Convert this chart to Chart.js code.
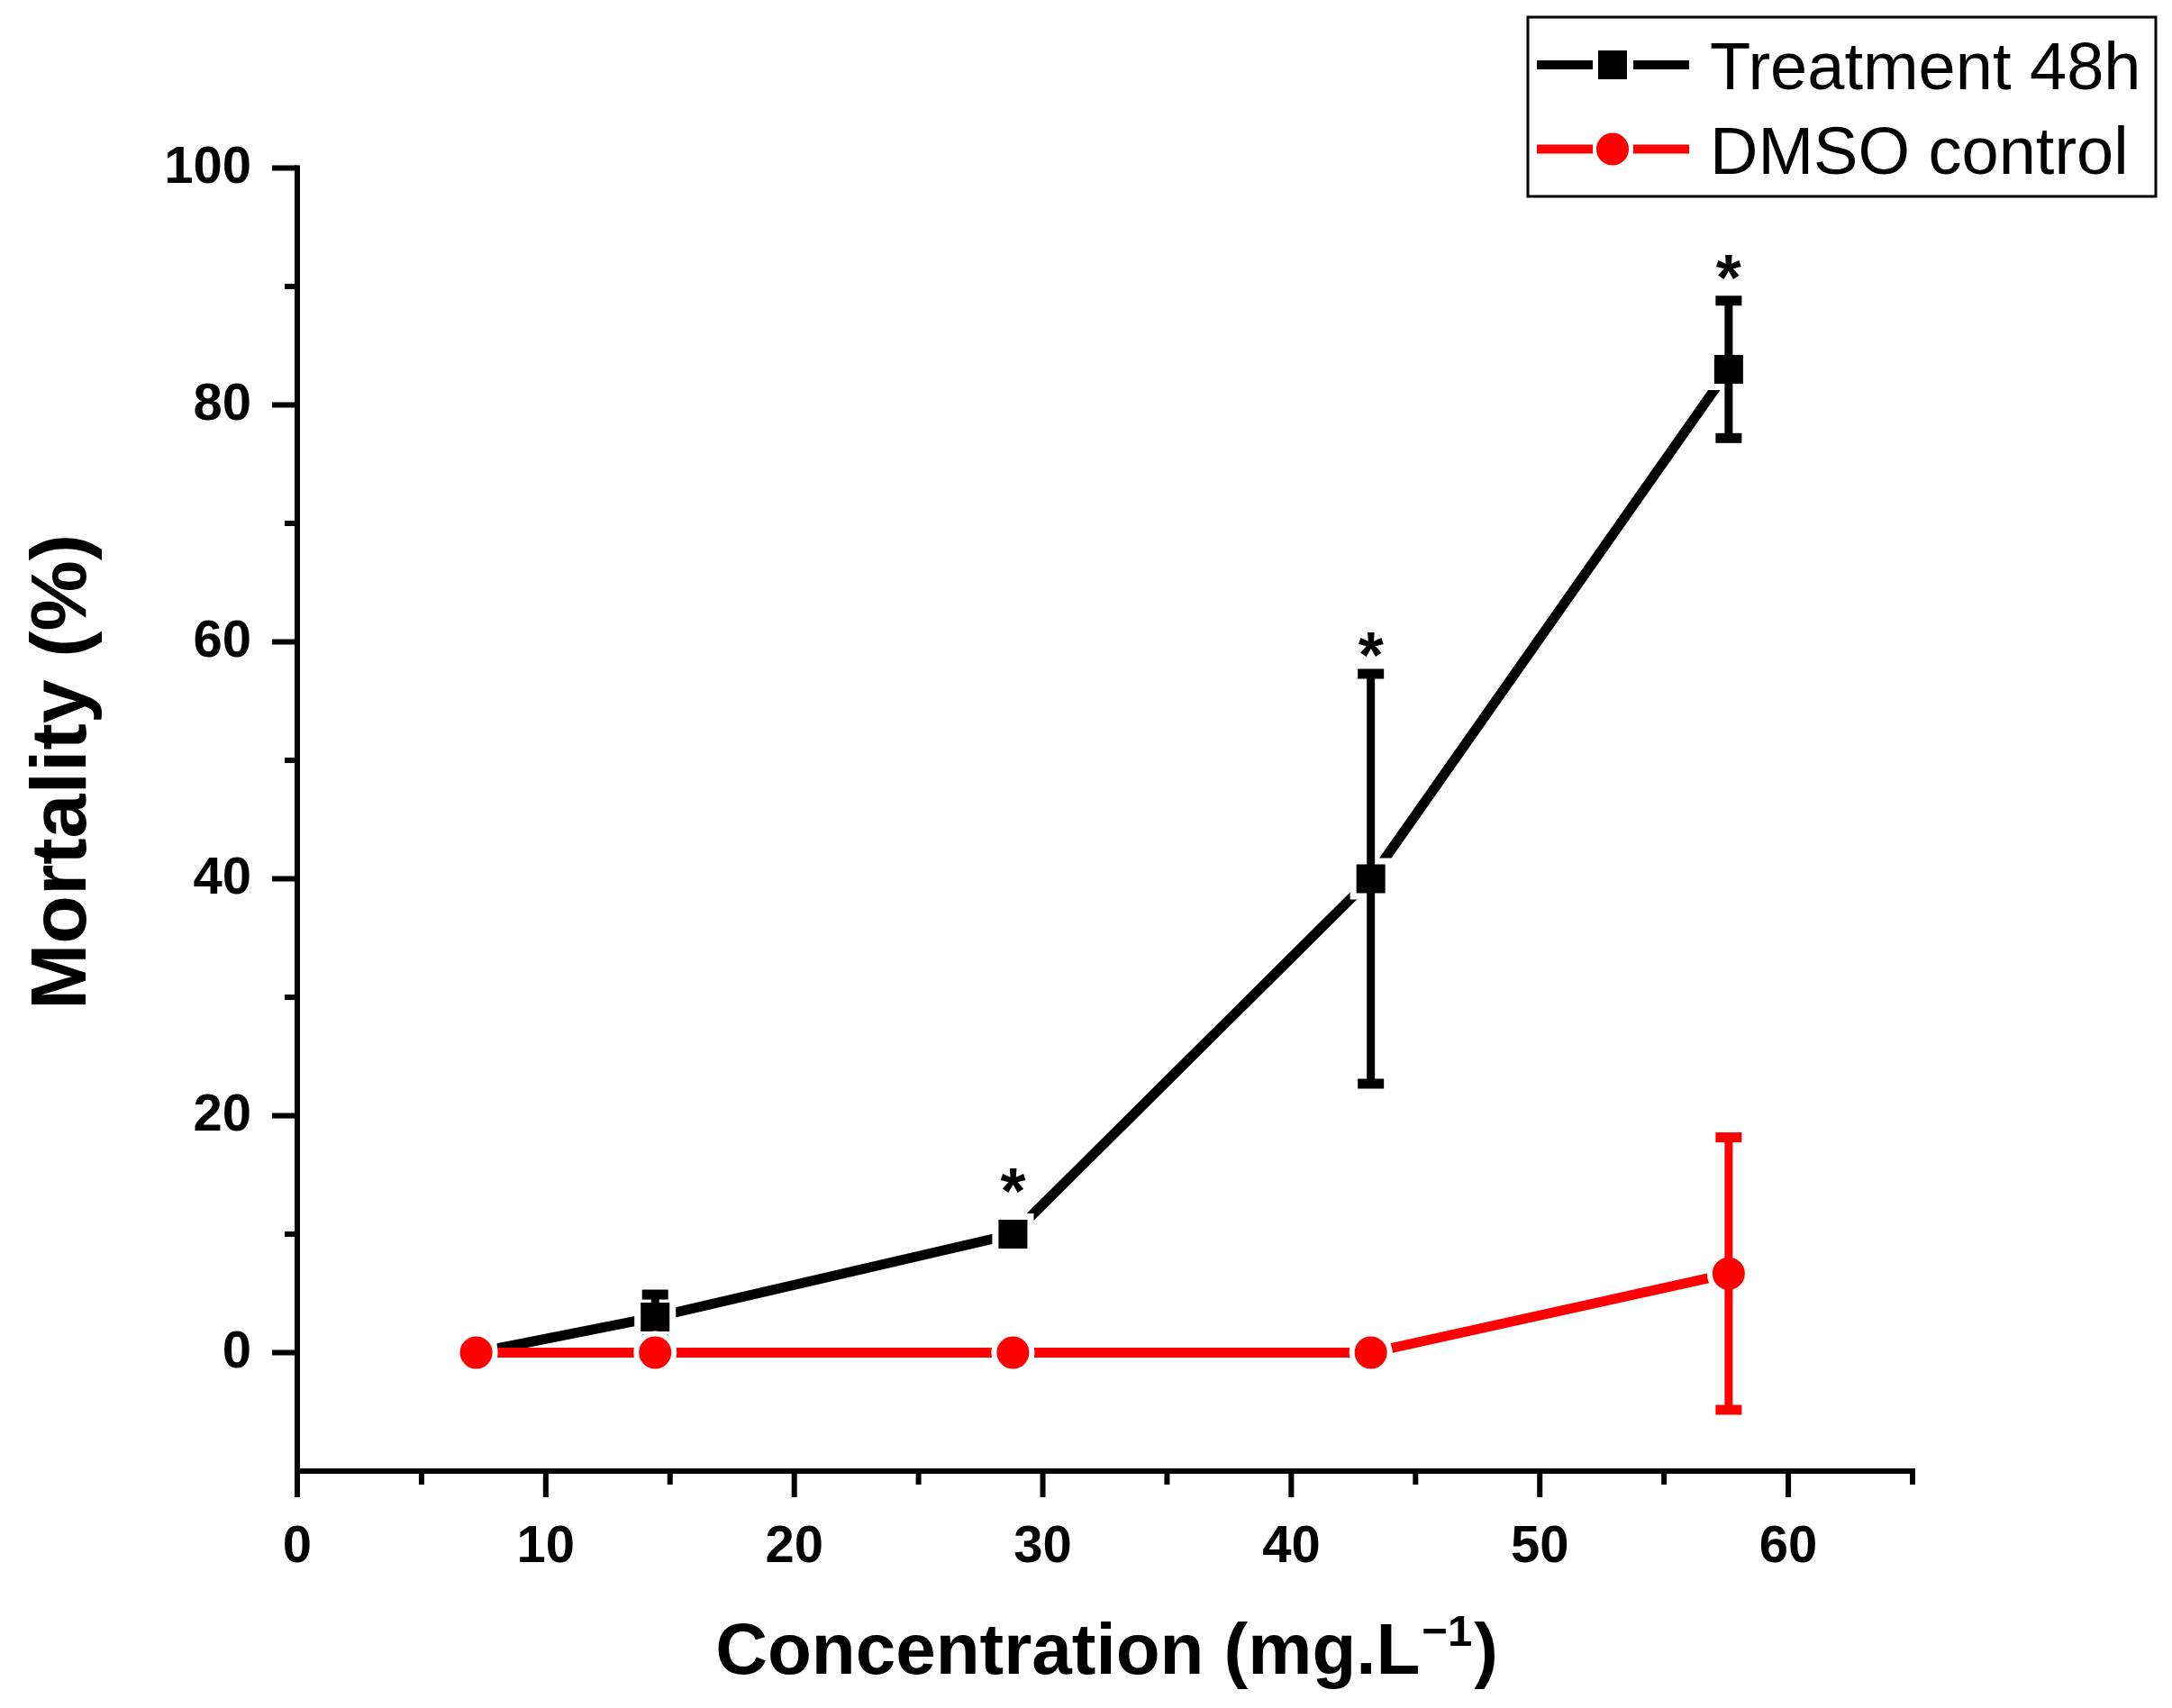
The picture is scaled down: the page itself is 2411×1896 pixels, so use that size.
<!DOCTYPE html>
<html>
<head>
<meta charset="utf-8">
<script src="https://cdn.jsdelivr.net/npm/chart.js@4.4.1/dist/chart.umd.min.js"></script>
<style>
  html, body { margin: 0; padding: 0; background: #ffffff; }
  #wrap { position: relative; width: 2411px; height: 1896px; }
</style>
</head>
<body>
<div id="wrap"><canvas id="c" width="2411" height="1896"></canvas></div>
<script>
// ---- data ----
const concentrations = [7.2, 14.4, 28.8, 43.2, 57.6];
const treatmentMortality = [0, 3.0, 10, 40, 83];
const treatmentError = [0, 1.9, 0, 17.3, 5.8];
const dmsoMortality = [0, 0, 0, 0, 6.67];
const dmsoError = [0, 0, 0, 0, 11.5];
const starConcentrations = [28.8, 43.2, 57.6];
const starLevels = [14.5, 59.8, 91.6];
const xTickValues = [0, 10, 20, 30, 40, 50, 60];
const xMinorValues = [5, 15, 25, 35, 45, 55, 65];
const yTickValues = [0, 20, 40, 60, 80, 100];
const yMinorValues = [10, 30, 50, 70, 90];
const seriesNames = ['Treatment 48h', 'DMSO control'];
const xTitle = 'Concentration (mg.L';
const xTitleSup = '\u22121';
const yTitle = 'Mortality (%)';

const FONT = '"Liberation Sans", Arial, sans-serif';
const BLACK = '#000000';
const RED = '#ff0000';

const errorData = [treatmentError, dmsoError];

const axesPlugin = {
  id: 'axesPlugin',
  beforeDatasetsDraw(chart) {
    const ctx = chart.ctx;
    const xs = chart.scales.x, ys = chart.scales.y;
    const L = chart.chartArea.left, B = chart.chartArea.bottom, T = chart.chartArea.top, R = chart.chartArea.right;
    ctx.save();
    ctx.strokeStyle = BLACK;
    ctx.lineWidth = 6;
    ctx.lineCap = 'square';
    ctx.beginPath();
    ctx.moveTo(L, T); ctx.lineTo(L, B); ctx.lineTo(R, B);
    ctx.stroke();
    ctx.lineCap = 'butt';
    ctx.beginPath();
    yTickValues.forEach(v => { const p = ys.getPixelForValue(v); ctx.moveTo(L - 28, p); ctx.lineTo(L, p); });
    yMinorValues.forEach(v => { const p = ys.getPixelForValue(v); ctx.moveTo(L - 14, p); ctx.lineTo(L, p); });
    xTickValues.forEach(v => { const p = xs.getPixelForValue(v); ctx.moveTo(p, B); ctx.lineTo(p, B + 29); });
    xMinorValues.forEach(v => { const p = xs.getPixelForValue(v); ctx.moveTo(p, B); ctx.lineTo(p, B + 15); });
    ctx.stroke();
    ctx.restore();
  },
  afterDatasetDraw(chart, args) {
    const ctx = chart.ctx;
    const xs = chart.scales.x, ys = chart.scales.y;
    const ds = chart.data.datasets[args.index];
    const errs = errorData[args.index];
    ctx.save();
    ctx.fillStyle = ds.borderColor;
    ds.data.forEach((pt, i) => {
      const e = errs[i];
      if (!e) return;
      const x = xs.getPixelForValue(pt.x);
      const yT = ys.getPixelForValue(pt.y + e);
      const yB = ys.getPixelForValue(pt.y - e);
      ctx.fillRect(x - 4.5, yT, 9, yB - yT);
      ctx.fillRect(x - 14.5, yT - 5.5, 29, 11);
      ctx.fillRect(x - 14.5, yB - 5.5, 29, 11);
    });
    ctx.restore();
  },
  afterDraw(chart) {
    const ctx = chart.ctx;
    const xs = chart.scales.x, ys = chart.scales.y;
    const area = chart.chartArea;
    ctx.save();
    ctx.fillStyle = BLACK;
    // significance stars
    ctx.font = 'bold 72px ' + FONT;
    ctx.textAlign = 'center';
    ctx.textBaseline = 'alphabetic';
    const m = ctx.measureText('*');
    const off = (m.actualBoundingBoxAscent - m.actualBoundingBoxDescent) / 2;
    starConcentrations.forEach((c, i) => {
      ctx.fillText('*', xs.getPixelForValue(c), ys.getPixelForValue(starLevels[i]) + off);
    });
    // x title with superscript
    const mainF = 'bold 80px ' + FONT, supF = 'bold 49px ' + FONT;
    ctx.textAlign = 'left';
    ctx.font = mainF; const w1 = ctx.measureText(xTitle).width; const w3 = ctx.measureText(')').width;
    ctx.font = supF; const w2 = ctx.measureText(xTitleSup).width;
    const cx = (area.left + area.right) / 2;
    let sx = cx - (w1 + w2 + w3) / 2;
    ctx.font = mainF; ctx.fillText(xTitle, sx, 1858);
    ctx.font = supF; ctx.fillText(xTitleSup, sx + w1 + 2, 1827);
    ctx.font = mainF; ctx.fillText(')', sx + w1 + w2 + 4, 1858);
    // y title
    ctx.save();
    ctx.translate(95, 857);
    ctx.rotate(-Math.PI / 2);
    ctx.font = 'bold 88px ' + FONT;
    ctx.textAlign = 'center';
    ctx.fillText(yTitle, 0, 0);
    ctx.restore();
    // legend
    const bx = 1696, by = 19, bw = 697, bh = 199;
    ctx.strokeStyle = BLACK; ctx.lineWidth = 3;
    ctx.strokeRect(bx, by, bw, bh);
    const rows = [72, 165.5];
    const colors = [BLACK, RED];
    rows.forEach((ry, i) => {
      ctx.fillStyle = colors[i];
      ctx.fillRect(1706, ry - 5, 62, 10);
      ctx.fillRect(1813, ry - 5, 62, 10);
      if (i === 0) {
        ctx.fillRect(1774, ry - 16, 32, 32);
      } else {
        ctx.beginPath(); ctx.arc(1790, ry, 18, 0, Math.PI * 2); ctx.fill();
      }
      ctx.fillStyle = BLACK;
      ctx.font = '74px ' + FONT;
      ctx.textAlign = 'left';
      ctx.fillText(seriesNames[i], 1898, ry + 27);
    });
    ctx.restore();
  }
};

const chart = new Chart(document.getElementById('c'), {
  type: 'line',
  data: {
    datasets: [
      {
        label: seriesNames[0],
        data: concentrations.map((c, i) => ({ x: c, y: treatmentMortality[i] })),
        borderColor: BLACK,
        backgroundColor: BLACK,
        borderWidth: 11,
        pointStyle: 'rect',
        pointRadius: 27.6,
        pointBackgroundColor: BLACK,
        pointBorderColor: '#ffffff',
        pointBorderWidth: 7,
        tension: 0,
        order: 1
      },
      {
        label: seriesNames[1],
        data: concentrations.map((c, i) => ({ x: c, y: dmsoMortality[i] })),
        borderColor: RED,
        backgroundColor: RED,
        borderWidth: 11,
        pointStyle: 'circle',
        pointRadius: 21,
        pointBackgroundColor: RED,
        pointBorderColor: '#ffffff',
        pointBorderWidth: 6,
        tension: 0,
        order: 0
      }
    ]
  },
  options: {
    responsive: false,
    animation: false,
    devicePixelRatio: 1,
    events: [],
    clip: false,
    layout: { padding: { top: 186.5, right: 288, left: 0, bottom: 0 } },
    plugins: { legend: { display: false }, tooltip: { enabled: false } },
    scales: {
      x: {
        type: 'linear',
        min: 0, max: 65,
        afterBuildTicks: s => { s.ticks = xTickValues.map(v => ({ value: v })); },
        afterFit: s => { s.height = 1896 - 1633; },
        grid: { display: false, drawTicks: false },
        border: { display: false },
        ticks: { color: BLACK, font: { family: FONT, size: 58, weight: 'bold' }, padding: 50, maxRotation: 0, autoSkip: false }
      },
      y: {
        type: 'linear',
        min: -10, max: 100,
        afterBuildTicks: s => { s.ticks = yTickValues.map(v => ({ value: v })); },
        afterFit: s => { s.width = 330; },
        grid: { display: false, drawTicks: false },
        border: { display: false },
        ticks: { color: BLACK, font: { family: FONT, size: 58, weight: 'bold' }, padding: 51, autoSkip: false }
      }
    }
  },
  plugins: [axesPlugin]
});
</script>
</body>
</html>
